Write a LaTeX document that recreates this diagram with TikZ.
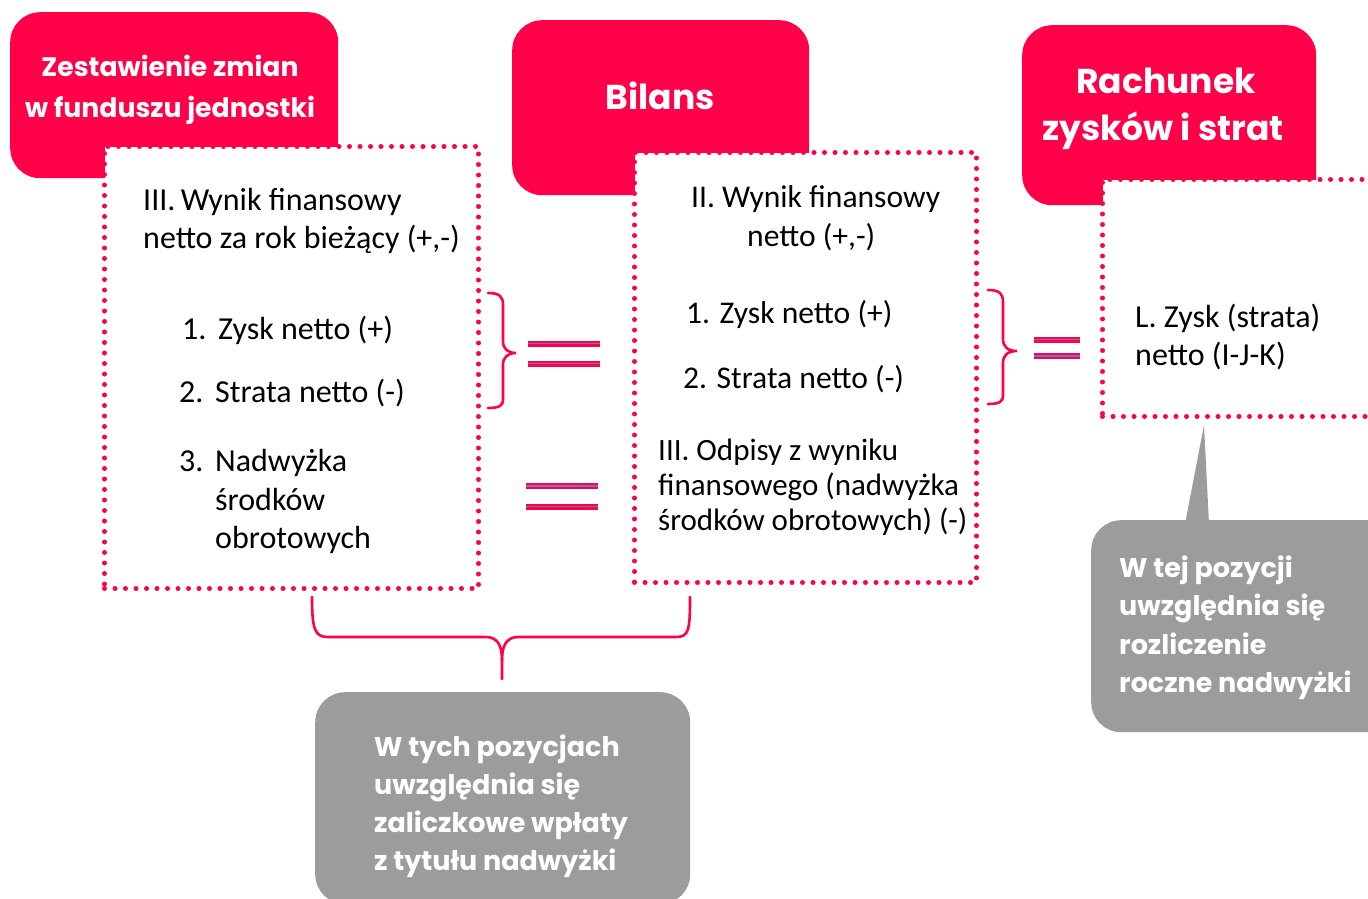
\documentclass[tikz,border=0pt]{standalone}
\usepackage{fontspec}
\setmainfont{Carlito}
\newfontfamily\hd{Poppins}
\usetikzlibrary{calc}
\definecolor{pk}{RGB}{255,0,73}
\definecolor{gr}{RGB}{156,156,156}
\definecolor{eqin}{RGB}{110,120,190}
\tikzset{
  pinkbox/.style={fill=pk, draw=none, rounded corners=30pt, anchor=north west, inner sep=0},
  greybox/.style={fill=gr, draw=none, rounded corners=30pt, anchor=north west, inner sep=0},
  dotbox/.style={fill=white, draw=pk, line width=5pt, dash pattern=on 0pt off 10.5pt, line cap=round, anchor=north west, inner sep=0},
  body/.style={anchor=base west, inner sep=0, text=black, font=\fontsize{32}{38}\selectfont},
  bodym/.style={anchor=base west, inner sep=0, text=black, font=\fontsize{31.6}{38}\selectfont},
  bodys/.style={anchor=base west, inner sep=0, text=black, font=\fontsize{31}{38}\selectfont},
  head/.style={anchor=base, inner sep=0, text=white, font=\hd\bfseries\fontsize{26.7}{30}\selectfont},
  bighead/.style={anchor=base, inner sep=0, text=white, font=\hd\bfseries\fontsize{34.5}{38}\selectfont},
  note/.style={anchor=base west, inner sep=0, text=white, font=\hd\bfseries\fontsize{27}{30}\selectfont},
  bracel/.style={draw=pk, line width=2.6pt, line cap=round},
  eqbar/.style={draw=pk, line width=2.4pt, double=eqin, double distance=1.2pt},
}
\begin{document}
\begin{tikzpicture}[x=1pt,y=-1pt]
\useasboundingbox (0,0) rectangle (1368,899);
\fill[white] (0,0) rectangle (1368,899);
\clip (0,0) rectangle (1368,899);

% pink header boxes
\node[pinkbox, minimum width=328pt, minimum height=166pt] (h1) at (10,12) {};
\node[pinkbox, minimum width=297pt, minimum height=175pt] (h2) at (512,20) {};
\node[pinkbox, minimum width=294pt, minimum height=180pt] (h3) at (1022,25) {};

\node[head] (h1a) at (170,77) {Zestawienie zmian};
\node[head] (h1b) at (170,117) {w funduszu jednostki};
\node[bighead] (h2a) at (660,109) {Bilans};
\node[bighead] (h3a) at (1166,93) {Rachunek};
\node[bighead] (h3b) at (1163,140) {zysków i strat};

% dotted boxes
\node[dotbox, minimum width=374pt, minimum height=442pt] (b1) at (102,144) {};
\node[dotbox, minimum width=342pt, minimum height=430pt] (b2) at (632,150) {};
\node[dotbox, minimum width=300pt, minimum height=237pt] (b3) at (1100,177) {};

% box 1 text
\node[body] (t1a) at (143,210) {III.\,Wynik finansowy};
\node[body] (t1b) at (143,248) {netto za rok bieżący (+,-)};
\node[body] (t1c) at (182,339) {\makebox[36pt][l]{1.}Zysk netto (+)};
\node[body] (t1d) at (179,402) {\makebox[36pt][l]{2.}Strata netto (-)};
\node[body] (t1e) at (179,471) {\makebox[36pt][l]{3.}Nadwyżka};
\node[body] (t1f) at (215,510) {środków};
\node[body] (t1g) at (215,548) {obrotowych};

% box 2 text
\node[bodym] (t2a) at (691,207) {II. Wynik finansowy};
\node[bodym] (t2b) at (747,246) {netto (+,-)};
\node[bodym] (t2c) at (686,323) {1. Zysk netto (+)};
\node[bodym] (t2d) at (683,388) {2. Strata netto (-)};
\node[bodys] (t2e) at (658,460) {III. Odpisy z wyniku};
\node[bodys] (t2f) at (658,495) {finansowego (nadwyżka};
\node[bodys] (t2g) at (658,530) {środków obrotowych) (-)};

% box 3 text
\node[body] (t3a) at (1135,327) {L. Zysk (strata)};
\node[body] (t3b) at (1135,365) {netto (I-J-K)};

% braces
\coordinate (br1) at (516,353);
\draw[bracel] (488,293) .. controls (500,293) and (503,297) .. (503,305) -- (503,341)
  .. controls (503,349) and (508,353) .. (br1)
  .. controls (508,353) and (503,357) .. (503,365) -- (503,400)
  .. controls (503,405) and (500,408) .. (488,408);
\coordinate (br2) at (1017,351);
\draw[bracel] (988,290) .. controls (1000,290) and (1003,294) .. (1003,302) -- (1003,339)
  .. controls (1003,347) and (1008,351) .. (br2)
  .. controls (1008,351) and (1003,355) .. (1003,363) -- (1003,396)
  .. controls (1003,401) and (1000,404) .. (988,404);

% equal signs
\coordinate (e1a) at (528,343.5); \coordinate (e1b) at (600,343.5);
\coordinate (e1c) at (528,363.5); \coordinate (e1d) at (600,363.5);
\draw[eqbar] (e1a) -- (e1b);
\draw[eqbar] (e1c) -- (e1d);
\coordinate (e2a) at (526,486); \coordinate (e2b) at (598,486);
\coordinate (e2c) at (526,506.5); \coordinate (e2d) at (598,506.5);
\draw[eqbar] (e2a) -- (e2b);
\draw[eqbar] (e2c) -- (e2d);
\coordinate (e3a) at (1034,339.5); \coordinate (e3b) at (1080,339.5);
\coordinate (e3c) at (1034,356); \coordinate (e3d) at (1080,356);
\draw[eqbar] (e3a) -- (e3b);
\draw[eqbar] (e3c) -- (e3d);

% bottom brace
\coordinate (bb) at (502,679);
\draw[bracel] (312,597) .. controls (312,630) and (315,637) .. (328,637) -- (486,637)
  .. controls (497,637) and (502,645) .. (502,660) -- (bb);
\draw[bracel] (502,660) .. controls (502,645) and (507,637) .. (518,637) -- (676,637)
  .. controls (689,637) and (690,630) .. (690,597);

% grey notes
\node[greybox, minimum width=375pt, minimum height=212pt] (g1) at (315,692) {};
\node[note] (g1a) at (374,756) {W tych pozycjach};
\node[note] (g1b) at (374,794) {uwzględnia się};
\node[note] (g1c) at (374,832) {zaliczkowe wpłaty};
\node[note] (g1d) at (374,870) {z tytułu nadwyżki};

\coordinate (tip) at (1204,425);
\fill[gr] (1185,524) -- (tip) -- (1209,524) -- cycle;
\node[greybox, minimum width=310pt, minimum height=212pt] (g2) at (1091,520) {};
\node[note] (g2a) at (1119,577) {W tej pozycji};
\node[note] (g2b) at (1119,615) {uwzględnia się};
\node[note] (g2c) at (1119,654) {rozliczenie};
\node[note] (g2d) at (1119,692) {roczne nadwyżki};
\end{tikzpicture}
\end{document}
